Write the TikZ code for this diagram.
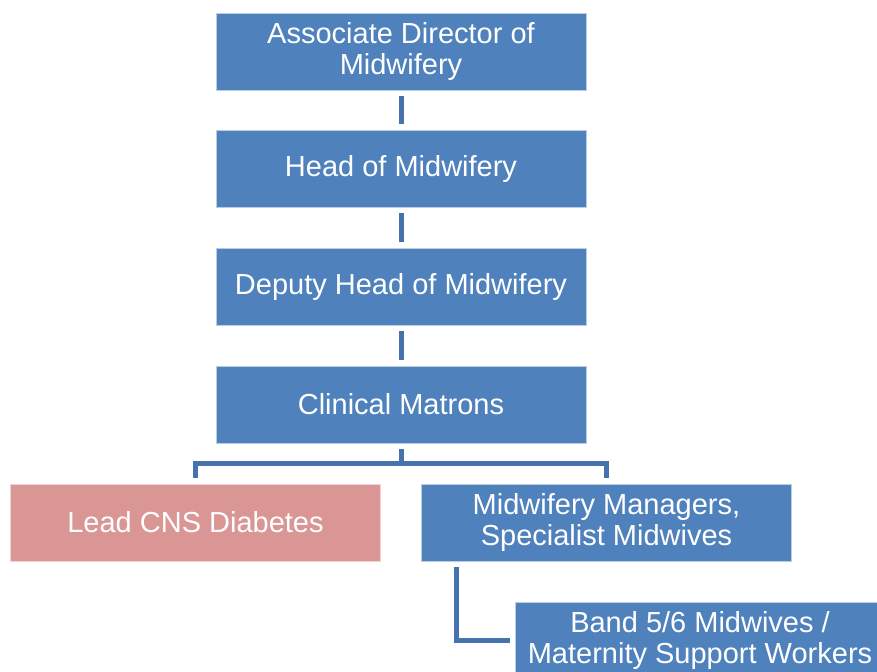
\documentclass[tikz,border=0pt]{standalone}
\usepackage{fontspec}
\setmainfont{Liberation Sans}
\usetikzlibrary{positioning}
\definecolor{boxblue}{HTML}{4F81BD}
\definecolor{boxpink}{HTML}{D99694}
\definecolor{lineblue}{HTML}{4672AD}
\tikzset{
	rolebox/.style={rectangle, fill=boxblue, draw=white!60!boxblue, line width=0.6pt, text=white,
		minimum width=277.5pt, minimum height=57.75pt, inner sep=0pt, align=center,
		font=\fontsize{21.75}{23}\selectfont},
	conn/.style={draw=lineblue, line width=3.75pt, shorten <=4.5pt, shorten >=4.5pt}
}
\begin{document}
\begin{tikzpicture}[x=0.75pt,y=-0.75pt]
	% Fix page size
	\clip (0,0) rectangle (877,671);
	% Draw nodes
	\node[rolebox] (assoc) at (401,51.5) {Associate Director of\\Midwifery};
	\node[rolebox] (head) at (401,168.5) {Head of Midwifery};
	\node[rolebox] (deputy) at (401,286.5) {Deputy Head of Midwifery};
	\node[rolebox] (matrons) at (401,404.5) {Clinical Matrons};
	\node[rolebox, fill=boxpink, draw=white!60!boxpink] (cns) at (195.5,522.5) {Lead CNS Diabetes};
	\node[rolebox] (managers) at (606.5,522.5) {Midwifery Managers,\\Specialist Midwives};
	\node[rolebox] (band) at (700,640.5) {Band 5/6 Midwives /\\Maternity Support Workers};
	% Draw connectors
	\coordinate (split) at (401,463);
	\draw[conn] (assoc) -- (head);
	\draw[conn] (head) -- (deputy);
	\draw[conn] (deputy) -- (matrons);
	\draw[conn, shorten >=0pt] (matrons) -- (split);
	\draw[conn] (cns.north) |- (split) -| (managers.north);
	\draw[conn, shorten >=3.75pt] ([xshift=26.25pt]managers.south west) |- (band.west);
\end{tikzpicture}
\end{document}
